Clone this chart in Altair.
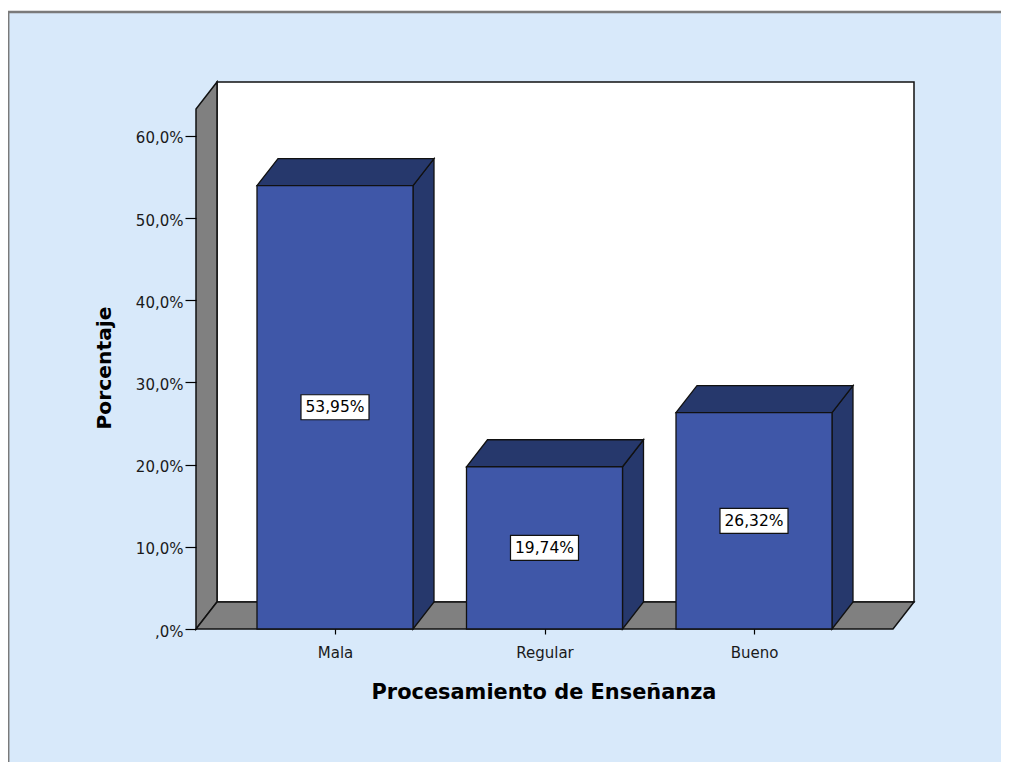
import altair as alt
import pandas as pd

# ---- data ----
categories = ["Mala", "Regular", "Bueno"]
values = [53.95, 19.74, 26.32]
y_ticks = [0, 10, 20, 30, 40, 50, 60]
y_tick_labels = [",0%", "10,0%", "20,0%", "30,0%", "40,0%", "50,0%", "60,0%"]
x_title = "Procesamiento de Enseñanza"
y_title = "Porcentaje"

# ---- geometry (style constants) ----
PX_X = 209.5          # px per category unit
PX_Y = 8.22           # px per percent
W, H = 718, 547
DX = 21 / PX_X        # depth offset (x units)
DY = 27 / PX_Y        # depth offset (percent units)
XMIN = -139 / PX_X
XFMAX = 2 + 139 / PX_X
XMAX = XFMAX + DX
YMAX = H / PX_Y
YTOP = YMAX - DY
HALF = 78 / PX_X
BW = 68 / PX_X
BH = 25 / PX_Y

FONT = "DejaVu Sans"
FRONT = "#3f57a8"
DARK = "#26386c"
GRAY = "#808080"
EDGE = "#111111"

xscale = alt.Scale(domain=[XMIN, XMAX], nice=False, zero=False)
yscale = alt.Scale(domain=[0, YMAX], nice=False, zero=False)

label_arr = "[" + ",".join("'%s'" % c for c in categories) + "]"
ylab_arr = "[" + ",".join("'%s'" % t for t in y_tick_labels) + "]"

x_axis = alt.Axis(values=list(range(len(categories))), labelExpr=label_arr + "[round(datum.value)]",
                  domain=False, grid=False, tickSize=5, tickColor="black", tickWidth=1.2,
                  labelFont=FONT, labelFontSize=15, labelColor="#1a1a1a", labelPadding=11,
                  title=x_title, titleFont=FONT, titleFontSize=20.9, titleFontWeight="bold",
                  titleColor="black", titleX=347.5, titleY=69, titleBaseline="alphabetic",
                  titleAlign="center", zindex=2)
y_axis = alt.Axis(values=y_ticks, labelExpr=ylab_arr + "[round(datum.value/10)]",
                  domain=False, grid=False, tickSize=11, tickColor="black", tickWidth=1.2,
                  labelFont=FONT, labelFontSize=15, labelColor="#1a1a1a", labelPadding=2,
                  labelBaseline="middle", labelOffset=2,
                  title=y_title, titleFont=FONT, titleFontSize=20.3, titleFontWeight="bold",
                  titleColor="black", titleX=-86, titleY=285.5, titleBaseline="alphabetic",
                  titleAlign="center", titleAngle=270, zindex=2)


def X(f):
    return alt.X(f, type="quantitative", scale=xscale, axis=x_axis, stack=None)


def Y(f):
    return alt.Y(f, type="quantitative", scale=yscale, axis=y_axis, stack=None)


# ---- tables ----
centers = list(range(len(categories)))
front = pd.DataFrame({
    "cat": categories,
    "xl": [c - HALF for c in centers],
    "xr": [c + HALF for c in centers],
    "y0": [0.0] * len(categories),
    "v": values,
    "mid": [v / 2 for v in values],
    "bl": [c - BW / 2 for c in centers],
    "br": [c + BW / 2 for c in centers],
    "bb": [v / 2 - BH / 2 for v in values],
    "bt": [v / 2 + BH / 2 for v in values],
    "c": centers,
    "lab": [("%.2f" % v).replace(".", ",") + "%" for v in values],
})

side_rows, top_rows = [], []
for cat, c, v in zip(categories, centers, values):
    side_rows.append({"cat": cat, "x": c + HALF, "lo": 0.0, "hi": v})
    side_rows.append({"cat": cat, "x": c + HALF + DX, "lo": DY, "hi": v + DY})
    top_rows.append({"cat": cat, "y": v, "xa": c - HALF, "xb": c + HALF})
    top_rows.append({"cat": cat, "y": v + DY, "xa": c - HALF + DX, "xb": c + HALF + DX})
side = pd.DataFrame(side_rows)
top = pd.DataFrame(top_rows)

left_wall = pd.DataFrame({"x": [XMIN, XMIN + DX], "lo": [0.0, DY], "hi": [YTOP, YMAX]})
floor = pd.DataFrame({"y": [0.0, DY], "xa": [XMIN, XMIN + DX], "xb": [XFMAX, XMAX]})
back = pd.DataFrame({"x": [XMIN + DX], "x2": [XMAX], "y": [DY], "y2": [YMAX]})
dummy = pd.DataFrame({"k": [0]})

# ---- layers ----
panel = alt.Chart(dummy).mark_rect(fill="#d8e9fa").encode(
    x=alt.value(-188), x2=alt.value(W + 87), y=alt.value(-69), y2=alt.value(H + 133))
top_border = alt.Chart(dummy).mark_rule(color="#7a7a7a", strokeWidth=2.5).encode(
    x=alt.value(-188), x2=alt.value(W + 87), y=alt.value(-70))
left_border = alt.Chart(dummy).mark_rule(color="#7a7a7a", strokeWidth=1.5).encode(
    x=alt.value(-187.3), y=alt.value(-70), y2=alt.value(H + 133))

back_wall = alt.Chart(back).mark_rect(fill="white", stroke=EDGE, strokeWidth=1.5).encode(
    x=X("x"), x2="x2", y=Y("y"), y2="y2")
lwall = alt.Chart(left_wall).mark_area(fill=GRAY, stroke=EDGE, strokeWidth=1.5,
                                       orient="vertical").encode(
    x=X("x"), y=Y("lo"), y2="hi")
flr = alt.Chart(floor).mark_area(fill=GRAY, stroke=EDGE, strokeWidth=1.5,
                                 orient="horizontal").encode(
    y=Y("y"), x=X("xa"), x2="xb")
sides = alt.Chart(side).mark_area(fill=DARK, stroke=EDGE, strokeWidth=1.3,
                                  orient="vertical").encode(
    x=X("x"), y=Y("lo"), y2="hi", detail="cat:N")
tops = alt.Chart(top).mark_area(fill=DARK, stroke=EDGE, strokeWidth=1.3,
                                orient="horizontal").encode(
    y=Y("y"), x=X("xa"), x2="xb", detail="cat:N")
fronts = alt.Chart(front).mark_rect(fill=FRONT, stroke=EDGE, strokeWidth=1.3).encode(
    x=X("xl"), x2="xr", y=Y("y0"), y2="v")
boxes = alt.Chart(front).mark_rect(fill="white", stroke=EDGE, strokeWidth=1.2).encode(
    x=X("bl"), x2="br", y=Y("bb"), y2="bt")
texts = alt.Chart(front).mark_text(font=FONT, fontSize=15.5, color="black",
                                   baseline="middle", align="center").encode(
    x=X("c"), y=Y("mid"), text="lab:N")

chart = alt.layer(panel, top_border, left_border, back_wall, lwall, flr, sides, tops,
                  fronts, boxes, texts).properties(
    width=W, height=H,
    padding={"left": 188, "top": 74, "right": 87, "bottom": 133},
    autosize=alt.AutoSizeParams(type="none"),
).configure_view(strokeWidth=0).configure(background="white")

chart.save("out.html", embed_options={"renderer": "svg", "actions": False})
